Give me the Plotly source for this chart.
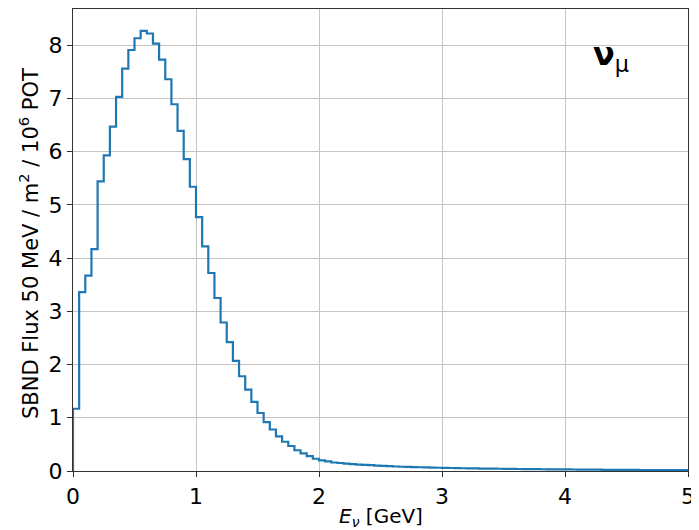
import numpy as np
import plotly.graph_objects as go

bin_width = 0.05  # GeV
flux = [1.17, 3.36, 3.67, 4.17, 5.44, 5.93, 6.47, 7.03, 7.56, 7.91,
        8.13, 8.27, 8.22, 8.03, 7.73, 7.36, 6.89, 6.39, 5.86, 5.34,
        4.77, 4.22, 3.72, 3.25, 2.79, 2.42, 2.07, 1.78, 1.53, 1.30,
        1.09, 0.92, 0.78, 0.65, 0.55, 0.47, 0.39, 0.33, 0.28, 0.23,
        0.20, 0.18, 0.16, 0.15, 0.14, 0.13, 0.12, 0.115, 0.11, 0.10,
        0.095, 0.09, 0.085, 0.08, 0.077, 0.074, 0.07, 0.067, 0.064, 0.061,
        0.058, 0.056, 0.054, 0.052, 0.050, 0.048, 0.046, 0.045, 0.043, 0.042,
        0.040, 0.039, 0.038, 0.036, 0.035, 0.034, 0.033, 0.032, 0.031, 0.030,
        0.029, 0.028, 0.027, 0.026, 0.025, 0.024, 0.023, 0.023, 0.022, 0.021,
        0.020, 0.020, 0.019, 0.018, 0.018, 0.017, 0.016, 0.016, 0.015, 0.015]
x_ticks = [0, 1, 2, 3, 4, 5]
y_ticks = [0, 1, 2, 3, 4, 5, 6, 7, 8]

edges = np.arange(len(flux) + 1) * bin_width
xs = np.concatenate([[edges[0]], edges])
ys = np.concatenate([[0.0], flux, [0.0]])

fig = go.Figure()
fig.add_trace(go.Scatter(x=xs, y=ys, mode="lines", line_shape="hv",
                         line=dict(color="#1f77b4", width=2.2), showlegend=False,
                         hoverinfo="skip"))

font = "DejaVu Sans"
axis_common = dict(showline=True, linecolor="#333333", linewidth=1.3, mirror=True,
                   showgrid=True, gridcolor="#c4c4c4", gridwidth=1,
                   zeroline=False, ticks="outside", ticklen=5, tickwidth=1.2,
                   tickcolor="#333333", automargin=False,
                   tickfont=dict(family=font, size=22, color="black"))

# page body has an 8px default margin; figure sized to fit the 699x530 window
fig.update_layout(
    width=691, height=522,
    margin=dict(l=65, r=11, t=1, b=59, autoexpand=False),
    paper_bgcolor="white", plot_bgcolor="white",
    font=dict(family=font, color="black"),
    xaxis=dict(range=[0, 5], tickvals=x_ticks, ticktext=[str(t) for t in x_ticks],
               **axis_common),
    yaxis=dict(range=[0, 8.68], tickvals=y_ticks, ticktext=[str(t) for t in y_ticks],
               **axis_common),
    annotations=[
        dict(text="<b>ν</b><sub>μ</sub>", xref="paper", yref="paper",
             x=0.842, y=0.899, xanchor="left", yanchor="middle",
             showarrow=False, font=dict(family=font, size=32, color="black")),
        dict(text="<i>E<sub>ν</sub></i> [GeV]", xref="paper", yref="paper",
             x=0.5, y=0, yshift=-46, xanchor="center", yanchor="middle",
             showarrow=False, font=dict(family=font, size=20, color="black")),
        dict(text="SBND Flux 50 MeV / m<sup>2</sup> / 10<sup>6</sup> POT",
             xref="paper", yref="paper", x=0, y=0.5, xshift=-44, yshift=-4,
             xanchor="center", yanchor="middle", textangle=-90,
             showarrow=False, font=dict(family=font, size=21, color="black")),
    ],
)

fig.write_html("out.html")
